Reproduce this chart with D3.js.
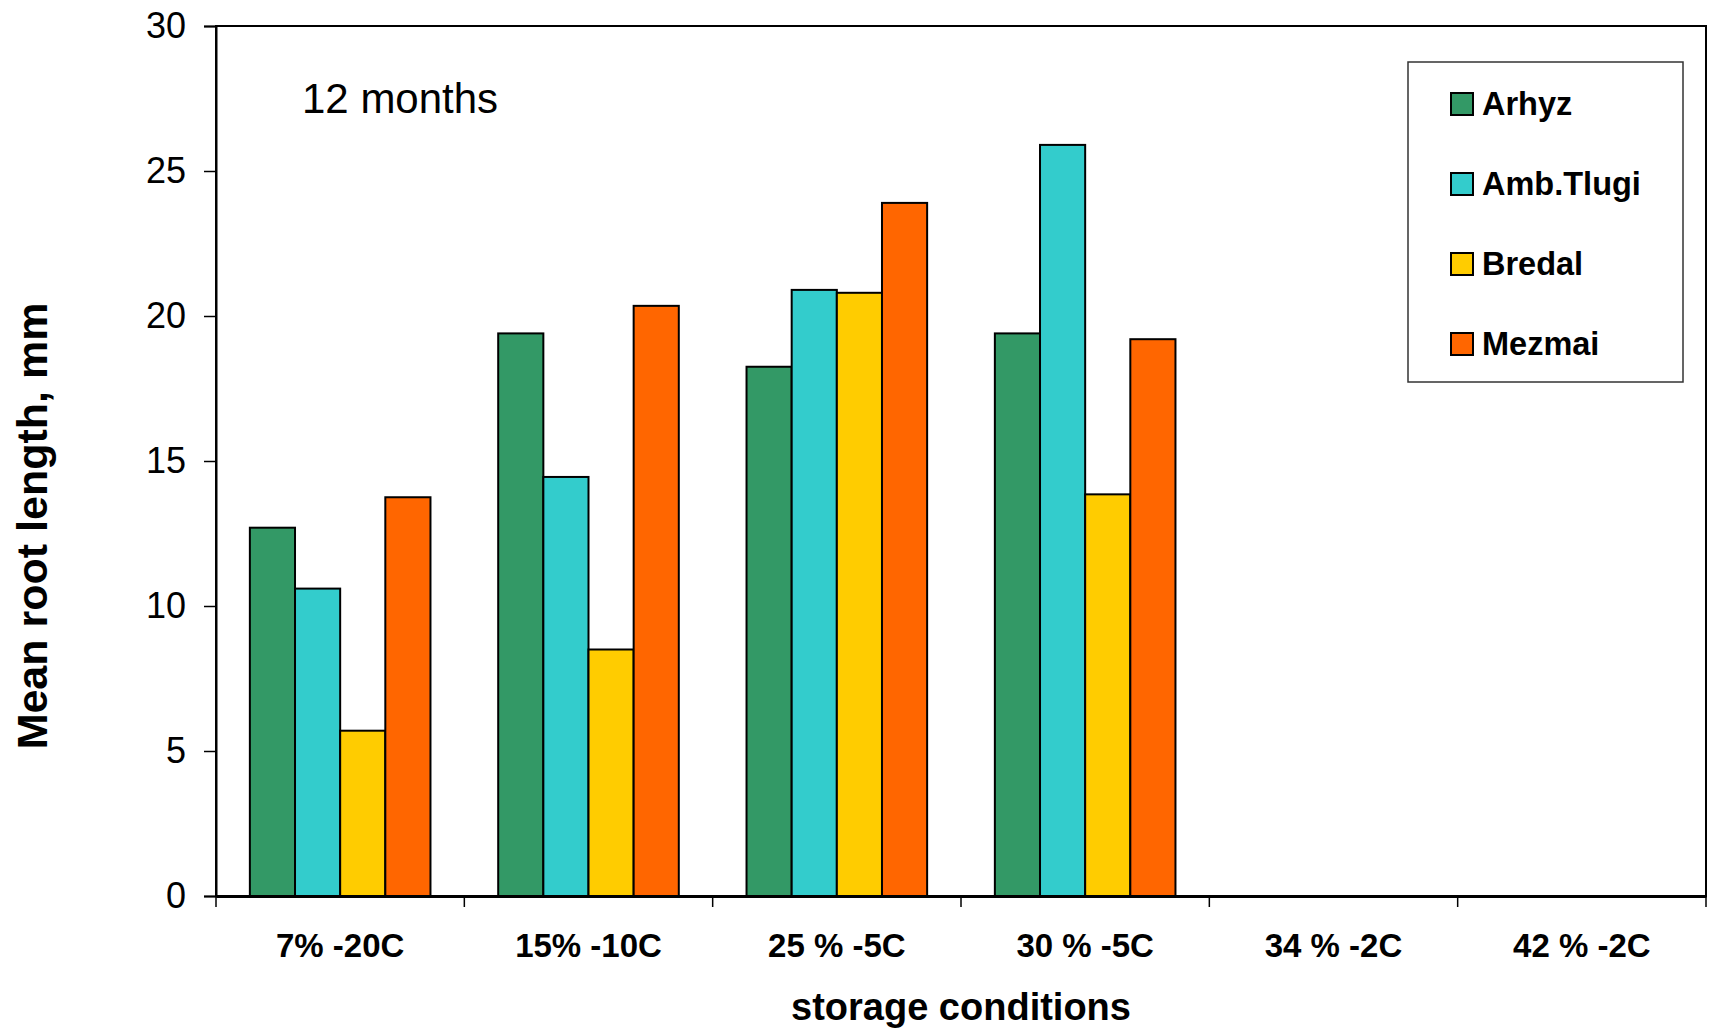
<!DOCTYPE html>
<html>
<head>
<meta charset="utf-8">
<script src="https://cdn.jsdelivr.net/npm/d3@7"></script>
<style>
  html, body { margin: 0; padding: 0; background: #fff; }
  svg { display: block; font-family: "Liberation Sans", Arial, Helvetica, sans-serif; }
</style>
</head>
<body>
<svg id="chart" width="1709" height="1028"></svg>
<script>
// ---- Data ----
const categories = ["7% -20C", "15% -10C", "25 % -5C", "30 % -5C", "34 % -2C", "42 % -2C"];
const seriesNames = ["Arhyz", "Amb.Tlugi", "Bredal", "Mezmai"];
const arhyz    = [12.7, 19.4, 18.25, 19.4, null, null];
const ambTlugi = [10.6, 14.45, 20.9, 25.9, null, null];
const bredal   = [5.7, 8.5, 20.8, 13.85, null, null];
const mezmai   = [13.75, 20.35, 23.9, 19.2, null, null];
const yTicks   = [0, 5, 10, 15, 20, 25, 30];
const seriesColors = ["#339966", "#33CCCC", "#FFCC00", "#FF6600"];

const seriesValues = [arhyz, ambTlugi, bredal, mezmai];

// ---- Layout ----
const svg = d3.select("#chart");
const plotLeft = 216, plotRight = 1706, plotTop = 26, plotBottom = 896;

const x = d3.scaleBand().domain(categories).range([plotLeft, plotRight]).padding(0);
const xInner = d3.scaleBand().domain(seriesNames).range([0, x.bandwidth()])
  .paddingInner(0).paddingOuter(0.75);
const y = d3.scaleLinear().domain([0, 30]).range([plotBottom, plotTop]);

// Plot border
svg.append("rect")
  .attr("x", plotLeft).attr("y", plotTop)
  .attr("width", plotRight - plotLeft).attr("height", plotBottom - plotTop)
  .attr("fill", "none").attr("stroke", "#000").attr("stroke-width", 2);

// Bars
const groups = svg.append("g").selectAll("g")
  .data(categories)
  .join("g")
  .attr("transform", d => `translate(${x(d)},0)`);

groups.selectAll("rect")
  .data((c, i) => seriesNames.map((s, j) => ({ s, j, v: seriesValues[j][i] })).filter(d => d.v != null))
  .join("rect")
  .attr("x", d => xInner(d.s))
  .attr("y", d => y(d.v))
  .attr("width", xInner.bandwidth())
  .attr("height", d => plotBottom - y(d.v))
  .attr("fill", d => seriesColors[d.j])
  .attr("stroke", "#000")
  .attr("stroke-width", 2);

// Y axis
const yAxis = d3.axisLeft(y).tickValues(yTicks).tickSize(12).tickPadding(18).tickFormat(d3.format("d"));
const yg = svg.append("g").attr("transform", `translate(${plotLeft},0)`).call(yAxis);
yg.select(".domain").attr("stroke", "#000").attr("stroke-width", 2);
yg.selectAll(".tick line").attr("stroke", "#000").attr("stroke-width", 1.5);
yg.selectAll(".tick text")
  .attr("font-family", "'Liberation Sans', Arial, sans-serif")
  .attr("font-size", 36).attr("fill", "#000");

// X axis
const xAxis = d3.axisBottom(x).tickSize(0).tickPadding(0);
const xg = svg.append("g").attr("transform", `translate(0,${plotBottom})`).call(xAxis);
xg.select(".domain").attr("stroke", "#000").attr("stroke-width", 3);
xg.selectAll(".tick text")
  .attr("font-family", "'Liberation Sans', Arial, sans-serif")
  .attr("font-size", 33).attr("font-weight", "bold").attr("fill", "#000")
  .attr("dy", null).attr("y", 61);
// boundary ticks between categories
const boundaries = categories.map(c => x(c)).concat([plotRight]);
svg.append("g").selectAll("line")
  .data(boundaries)
  .join("line")
  .attr("x1", d => d).attr("x2", d => d)
  .attr("y1", plotBottom).attr("y2", plotBottom + 11)
  .attr("stroke", "#000").attr("stroke-width", 1.5);

// Axis titles
svg.append("text")
  .attr("x", (plotLeft + plotRight) / 2).attr("y", 1020)
  .attr("text-anchor", "middle")
  .attr("font-size", 38).attr("font-weight", "bold")
  .text("storage conditions");

svg.append("text")
  .attr("transform", "translate(47,526) rotate(-90)")
  .attr("text-anchor", "middle")
  .attr("font-size", 43).attr("font-weight", "bold")
  .text("Mean root length, mm");

// Annotation
svg.append("text")
  .attr("x", 302).attr("y", 113)
  .attr("font-size", 42)
  .text("12 months");

// Legend
const legend = svg.append("g");
legend.append("rect")
  .attr("x", 1408).attr("y", 62).attr("width", 275).attr("height", 320)
  .attr("fill", "#fff").attr("stroke", "#333").attr("stroke-width", 1.5);
const items = legend.selectAll("g.item")
  .data(seriesNames)
  .join("g").attr("class", "item")
  .attr("transform", (d, i) => `translate(1451,${93 + i * 80})`);
items.append("rect")
  .attr("width", 22).attr("height", 22)
  .attr("fill", (d, i) => seriesColors[i])
  .attr("stroke", "#000").attr("stroke-width", 2);
items.append("text")
  .attr("x", 31).attr("y", 22)
  .attr("font-size", 32.5).attr("font-weight", "bold")
  .text(d => d);
</script>
</body>
</html>
